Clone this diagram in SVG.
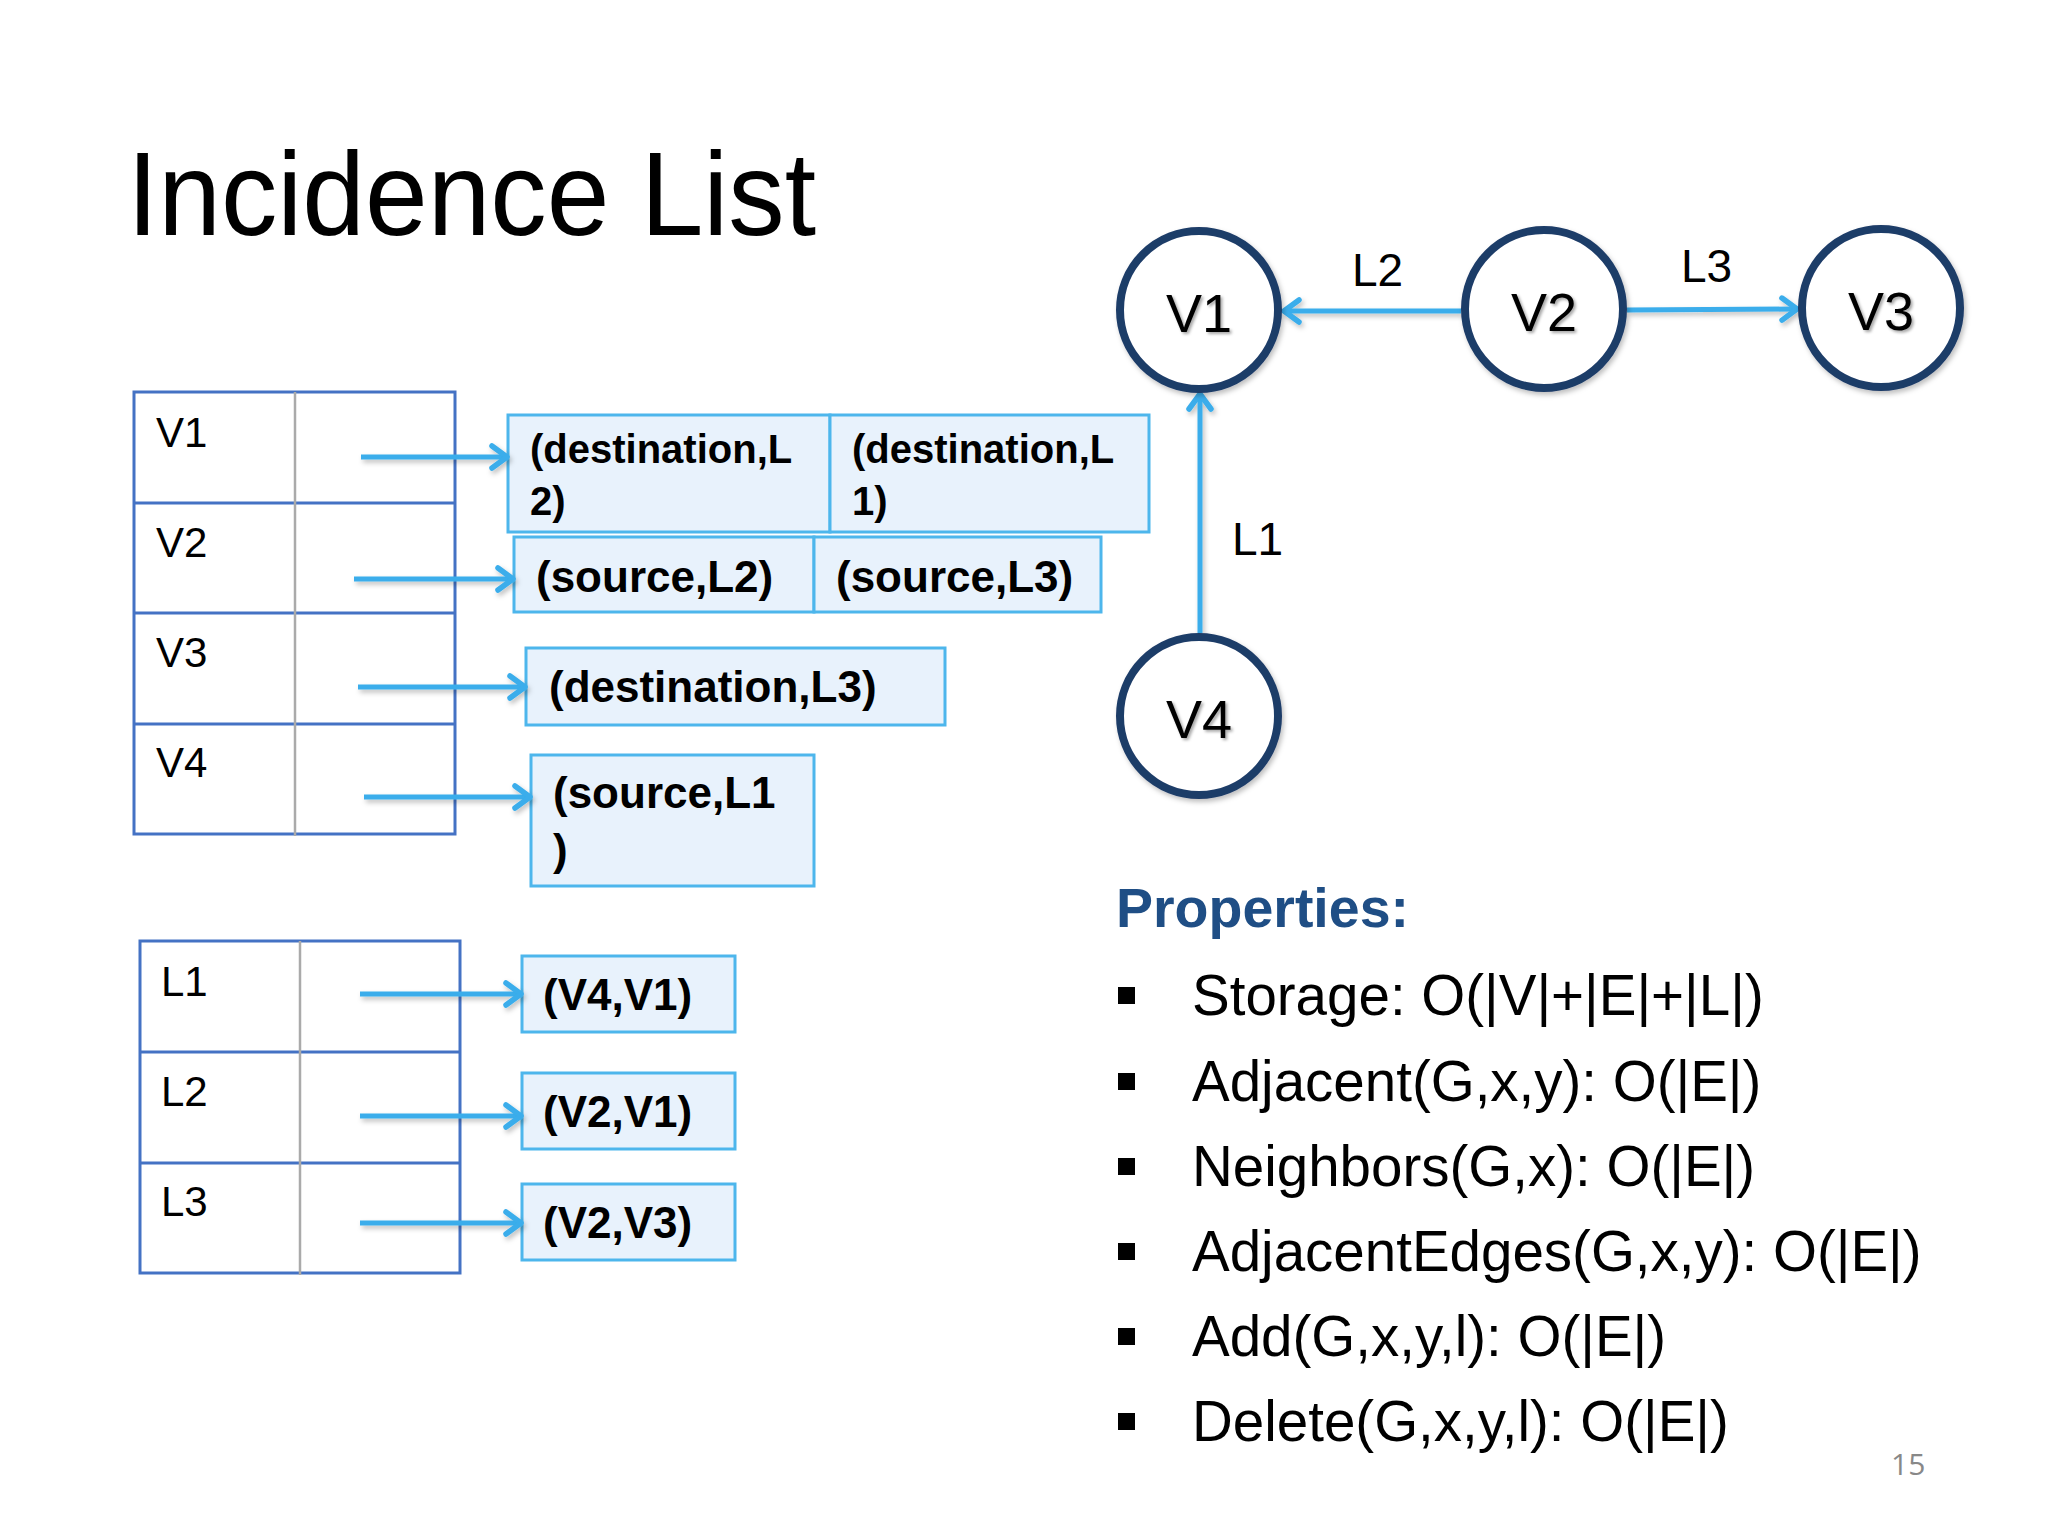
<svg xmlns="http://www.w3.org/2000/svg" width="2048" height="1536" viewBox="0 0 2048 1536">
  <defs>
    <style>
      .tbl { fill: #ffffff; stroke: #4472C4; stroke-width: 3; }
      .div { stroke: #AAAAAA; stroke-width: 2.5; }
      .hl { stroke: #4472C4; stroke-width: 3; }
      .lbl { font-family: "Liberation Sans", Arial, sans-serif; font-size: 42px; fill: #000; }
      .box { fill: #E8F2FC; stroke: #4DB6EC; stroke-width: 3; }
      .btxt { font-family: "Liberation Sans", Arial, sans-serif; font-weight: bold; font-size: 44px; fill: #000; }
      .btxt-s { font-family: "Liberation Sans", Arial, sans-serif; font-weight: bold; font-size: 40px; fill: #000; }
      .arr { stroke: #3AADEB; stroke-width: 5; fill: none; marker-end: url(#chev); }
      .node { fill: #ffffff; stroke: #1F3C68; stroke-width: 8; }
      .ntxt { font-family: "Liberation Sans", Arial, sans-serif; font-size: 54px; fill: #000; text-anchor: middle; }
      .elbl { font-family: "Liberation Sans", Arial, sans-serif; font-size: 46px; fill: #000; }
      .prop { font-family: "Liberation Sans", Arial, sans-serif; font-size: 56.5px; fill: #000; }
    </style>
    <marker id="chev" viewBox="0 0 26 30" refX="21" refY="15" markerWidth="26" markerHeight="30" markerUnits="userSpaceOnUse" orient="auto">
      <path d="M6,4 L21,15 L6,26" fill="none" stroke="#3AADEB" stroke-width="5.5" stroke-linecap="round" stroke-linejoin="round"/>
    </marker>
    <filter id="shadow" x="-20%" y="-20%" width="140%" height="140%">
      <feDropShadow dx="2" dy="3" stdDeviation="2.5" flood-color="#000" flood-opacity="0.25"/>
    </filter>
    <filter id="tshadow" x="-20%" y="-20%" width="140%" height="140%">
      <feDropShadow dx="2" dy="2" stdDeviation="1.5" flood-color="#000" flood-opacity="0.35"/>
    </filter>
  </defs>

  <rect width="2048" height="1536" fill="#ffffff"/>

  <text x="127" y="235" font-family="Liberation Sans, Arial, sans-serif" font-size="118" textLength="689" lengthAdjust="spacingAndGlyphs" fill="#000">Incidence List</text>

  <!-- Vertex table -->
  <g id="vertex-table">
    <rect class="tbl" x="134" y="392" width="321" height="442"/>
    <line class="hl" x1="134" y1="503" x2="455" y2="503"/>
    <line class="hl" x1="134" y1="613" x2="455" y2="613"/>
    <line class="hl" x1="134" y1="724" x2="455" y2="724"/>
    <line class="div" x1="295" y1="392" x2="295" y2="836"/>
    <text class="lbl" x="156" y="447">V1</text>
    <text class="lbl" x="156" y="557">V2</text>
    <text class="lbl" x="156" y="667">V3</text>
    <text class="lbl" x="156" y="777">V4</text>
  </g>

  <!-- Edge table -->
  <g id="edge-table">
    <rect class="tbl" x="140" y="941" width="320" height="332"/>
    <line class="hl" x1="140" y1="1052" x2="460" y2="1052"/>
    <line class="hl" x1="140" y1="1163" x2="460" y2="1163"/>
    <line class="div" x1="300" y1="941" x2="300" y2="1275"/>
    <text class="lbl" x="161" y="996">L1</text>
    <text class="lbl" x="161" y="1106">L2</text>
    <text class="lbl" x="161" y="1216">L3</text>
  </g>

  <!-- Incidence boxes -->
  <g id="v1-list">
    <rect class="box" x="508" y="415" width="322" height="117"/>
    <rect class="box" x="830" y="415" width="319" height="117"/>
    <text class="btxt-s" x="530" y="463">(destination,L</text>
    <text class="btxt-s" x="530" y="515">2)</text>
    <text class="btxt-s" x="852" y="463">(destination,L</text>
    <text class="btxt-s" x="852" y="515">1)</text>
  </g>
  <g id="v2-list">
    <rect class="box" x="514" y="537" width="300" height="75"/>
    <rect class="box" x="814" y="537" width="287" height="75"/>
    <text class="btxt" x="536" y="592">(source,L2)</text>
    <text class="btxt" x="836" y="592">(source,L3)</text>
  </g>
  <g id="v3-list">
    <rect class="box" x="526" y="648" width="419" height="77"/>
    <text class="btxt" x="549" y="702">(destination,L3)</text>
  </g>
  <g id="v4-list">
    <rect class="box" x="531" y="755" width="283" height="131"/>
    <text class="btxt" x="553" y="808">(source,L1</text>
    <text class="btxt" x="553" y="865">)</text>
  </g>
  <g id="l1-list">
    <rect class="box" x="522" y="956" width="213" height="76"/>
    <text class="btxt" x="543" y="1010">(V4,V1)</text>
  </g>
  <g id="l2-list">
    <rect class="box" x="522" y="1073" width="213" height="76"/>
    <text class="btxt" x="543" y="1127">(V2,V1)</text>
  </g>
  <g id="l3-list">
    <rect class="box" x="522" y="1184" width="213" height="76"/>
    <text class="btxt" x="543" y="1238">(V2,V3)</text>
  </g>

  <!-- Connectors -->
  <g id="connectors" filter="url(#shadow)">
    <line class="arr" x1="361" y1="457" x2="507" y2="457"/>
    <line class="arr" x1="354" y1="579" x2="513" y2="579"/>
    <line class="arr" x1="358" y1="687" x2="525" y2="687"/>
    <line class="arr" x1="364" y1="797" x2="530" y2="797"/>
    <line class="arr" x1="360" y1="994" x2="521" y2="994"/>
    <line class="arr" x1="360" y1="1116" x2="521" y2="1116"/>
    <line class="arr" x1="360" y1="1223" x2="521" y2="1223"/>
    <line class="arr" x1="1461" y1="311" x2="1284" y2="311"/>
    <line class="arr" x1="1627" y1="310" x2="1797" y2="309"/>
    <line class="arr" x1="1200" y1="633" x2="1200" y2="394"/>
  </g>

  <!-- Graph nodes -->
  <g id="node-V1">
    <circle class="node" cx="1199" cy="310" r="79" filter="url(#shadow)"/>
    <text class="ntxt" x="1199" y="332" filter="url(#tshadow)">V1</text>
  </g>
  <g id="node-V2">
    <circle class="node" cx="1544" cy="309" r="79" filter="url(#shadow)"/>
    <text class="ntxt" x="1544" y="331" filter="url(#tshadow)">V2</text>
  </g>
  <g id="node-V3">
    <circle class="node" cx="1881" cy="308" r="79" filter="url(#shadow)"/>
    <text class="ntxt" x="1881" y="330" filter="url(#tshadow)">V3</text>
  </g>
  <g id="node-V4">
    <circle class="node" cx="1199" cy="716" r="79" filter="url(#shadow)"/>
    <text class="ntxt" x="1199" y="738" filter="url(#tshadow)">V4</text>
  </g>

  <g id="edge-labels">
    <text class="elbl" x="1352" y="286">L2</text>
    <text class="elbl" x="1681" y="282">L3</text>
    <text class="elbl" x="1232" y="555">L1</text>
  </g>

  <!-- Properties -->
  <g id="properties">
    <text x="1116" y="927" font-family="Liberation Sans, Arial, sans-serif" font-weight="bold" font-size="55.5" fill="#1F4E85">Properties:</text>
    <rect x="1118" y="987" width="17" height="17" fill="#000"/>
    <rect x="1118" y="1073" width="17" height="17" fill="#000"/>
    <rect x="1118" y="1158" width="17" height="17" fill="#000"/>
    <rect x="1118" y="1243" width="17" height="17" fill="#000"/>
    <rect x="1118" y="1328" width="17" height="17" fill="#000"/>
    <rect x="1118" y="1413" width="17" height="17" fill="#000"/>
    <text class="prop" x="1192" y="1015">Storage: O(|V|+|E|+|L|)</text>
    <text class="prop" x="1192" y="1101">Adjacent(G,x,y): O(|E|)</text>
    <text class="prop" x="1192" y="1186">Neighbors(G,x): O(|E|)</text>
    <text class="prop" x="1192" y="1271">AdjacentEdges(G,x,y): O(|E|)</text>
    <text class="prop" x="1192" y="1356">Add(G,x,y,l): O(|E|)</text>
    <text class="prop" x="1192" y="1441">Delete(G,x,y,l): O(|E|)</text>
  </g>

  <text x="1891" y="1475" font-family="Open Sans, Liberation Sans, sans-serif" font-size="30" fill="#888888">15</text>
</svg>
